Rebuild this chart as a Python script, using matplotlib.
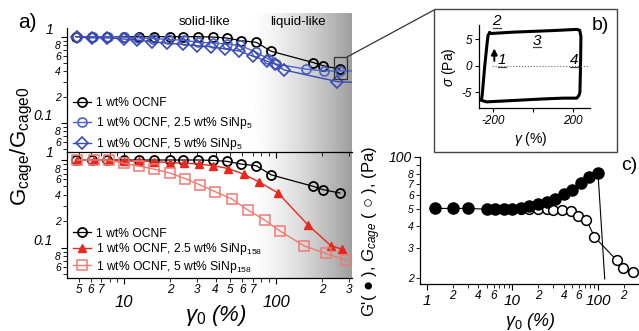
import numpy as np
import matplotlib
matplotlib.use("Agg")
import matplotlib.pyplot as plt
from matplotlib.patches import Rectangle, ConnectionPatch
from matplotlib.lines import Line2D

plt.rcParams['font.family'] = ['Liberation Sans', 'DejaVu Sans']
plt.rcParams['mathtext.fontset'] = 'custom'
plt.rcParams['mathtext.rm'] = 'Liberation Sans'
plt.rcParams['mathtext.it'] = 'Liberation Sans:italic'
plt.rcParams['mathtext.bf'] = 'Liberation Sans:bold'
plt.rcParams['axes.linewidth'] = 0.9

# ---- panel a, top: 1 wt% OCNF with SiNp5 ----
ocnf_x = [4.8, 6.1, 7.7, 9.9, 12.6, 15.7, 19.9, 24.5, 30.8, 38.5, 47.5, 58.5, 74, 93, 176, 203, 263]
ocnf_y = [1.0, 1.0, 1.0, 1.0, 1.0, 1.0, 1.0, 1.0, 1.0, 0.99, 0.965, 0.90, 0.86, 0.676, 0.50, 0.46, 0.42]

sinp5_25_x = [4.9, 6.2, 7.8, 9.9, 12.4, 15.5, 19.5, 24.6, 30.8, 38.5, 47.4, 58, 74, 89, 100, 157, 207, 263]
sinp5_25_y = [1.0, 1.0, 1.0, 0.99, 0.97, 0.95, 0.93, 0.91, 0.86, 0.845, 0.82, 0.79, 0.66, 0.55, 0.48, 0.42, 0.40, 0.40]
sinp5_25_end = (316, 0.40)

sinp5_5_x = [4.9, 6.1, 7.7, 9.9, 12.1, 15.2, 19.1, 24.2, 30.1, 37.2, 46.1, 57.4, 70.9, 87, 98.5, 113, 253]
sinp5_5_y = [1.0, 0.97, 0.97, 0.94, 0.915, 0.875, 0.84, 0.815, 0.785, 0.765, 0.72, 0.68, 0.59, 0.52, 0.48, 0.41, 0.30]
sinp5_5_end = (316, 0.295)

# ---- panel a, bottom: with SiNp158 ----
sinp158_25_x = [4.9, 6.3, 7.9, 10, 12.6, 15.8, 20, 24.9, 31, 38.7, 48.5, 61, 77.6, 103, 163, 230, 272]
sinp158_25_y = [1.0, 1.0, 1.0, 0.975, 0.975, 0.96, 0.93, 0.92, 0.90, 0.86, 0.80, 0.69, 0.56, 0.42, 0.18, 0.105, 0.096]

sinp158_5_x = [4.9, 6.3, 7.9, 10, 12.6, 15.8, 20, 25.2, 31.6, 39.7, 51, 65, 84, 106, 153, 212, 290]
sinp158_5_y = [1.0, 1.0, 1.0, 0.915, 0.85, 0.785, 0.71, 0.615, 0.52, 0.435, 0.36, 0.27, 0.207, 0.155, 0.105, 0.086, 0.072]

# ---- panel b: stress-strain loop ----
loop_gamma = [-215, -205, -185, -100, 0, 100, 180, 217, 232, 238, 236, 233, 228, 217, 150, 50, -50, -150,
              -230, -260, -255, -252, -240, -228, -223, -215]
loop_sigma = [6.2, 6.1, 6.15, 6.35, 6.5, 6.65, 6.8, 6.87, 6.7, 5.5, 0.0, -5.0, -5.6, -6.1, -6.1, -6.25,
              -6.45, -6.65, -6.8, -6.47, -6.2, -5.5, -0.2, 4.2, 5.76, 6.2]
loop_labels = ['1', '2', '3', '4']
loop_label_gamma = [-155, -180, 18, 202]
loop_label_sigma = [1.07, 8.4, 4.75, 1.07]

# ---- panel c: G' and Gcage for 1 wt% OCNF ----
gp_x = [1.25, 2, 3, 5, 6.3, 7.9, 10, 12.6, 15.8, 20, 25, 31.6, 40, 50, 63, 79, 100]
gp_y = [5.05, 5.05, 5.05, 5.0, 5.0, 5.0, 5.0, 5.11, 5.2, 5.34, 5.51, 5.76, 6.1, 6.44, 7.07, 7.63, 8.11]
gcage_x = [1.25, 2, 3, 5, 6.3, 7.9, 10, 12.6, 15.8, 20, 25, 30, 38, 48, 59, 73, 91, 165, 198, 258]
gcage_y = [5.05, 5.05, 5.05, 5.0, 5.0, 5.0, 5.0, 5.0, 5.0, 5.0, 5.0, 4.93, 4.93, 4.87, 4.55, 4.35, 3.46, 2.54, 2.30, 2.17]
drop_x = [100, 120]
drop_y = [8.11, 1.98]

BLUE1 = '#4d62c9'
BLUE2 = '#3a4ab6'
RED = '#e8281f'
PINK = '#f07a74'

W, H = 639, 331


def box(x0, y0, x1, y1):
    return [x0 / W, 1 - y1 / H, (x1 - x0) / W, (y1 - y0) / H]


def fx(px):
    return px / W


def fy(py):
    return 1 - py / H


def log_xticks(ax, labels=True):
    ax.set_xscale('log')
    maj = [10, 100]
    mnr = [5, 6, 7, 8, 9, 20, 30, 40, 50, 60, 70, 80, 90, 200, 300]
    mnr_lab = ['5', '6', '7', '', '', '2', '3', '4', '5', '6', '7', '', '', '2', '3']
    if labels:
        ax.set_xticks(maj, ['10', '100'], fontsize=12, style='italic')
        ax.set_xticks(mnr, mnr_lab, minor=True, fontsize=8.5, style='italic')
    else:
        ax.set_xticks(maj, ['', ''])
        ax.set_xticks(mnr, [''] * len(mnr), minor=True)
    ax.tick_params(axis='x', which='major', length=4, pad=8)
    ax.tick_params(axis='x', which='minor', length=3, pad=1.5)
    ax.set_xlim(4.2, 316)


def log_yticks(ax):
    ax.set_yscale('log')
    maj = [0.1, 1]
    mnr = [0.05, 0.06, 0.07, 0.08, 0.09, 0.2, 0.3, 0.4, 0.5, 0.6, 0.7, 0.8, 0.9]
    mnr_lab = ['', '6', '', '8', '', '2', '', '4', '', '6', '', '8', '']
    ax.set_yticks(maj, ['0.1', '1'], fontsize=10, style='italic')
    ax.set_yticks(mnr, mnr_lab, minor=True, fontsize=7.5, style='italic')
    ax.tick_params(axis='y', which='major', length=4, pad=6)
    ax.tick_params(axis='y', which='minor', length=3, pad=1.5)
    for lab in ax.get_yticklabels():
        lab.set_verticalalignment('bottom')


fig = plt.figure(figsize=(6.39, 3.31), dpi=100)

# grey shading behind both a-panels
bg = fig.add_axes(box(250, 13, 352, 278))
grad = np.linspace(0, 1, 256) ** 1.4
bg.imshow(np.vstack([1 - 0.38 * grad] * 2), cmap='gray', vmin=0, vmax=1,
          aspect='auto', extent=[0, 1, 0, 1])
bg.set_axis_off()
bg.set_zorder(0)

# ---- a) top ----
ax_t = fig.add_axes(box(67, 28, 352, 152))
ax_t.set_zorder(1)
ax_t.patch.set_alpha(0)
ax_t.plot(ocnf_x, ocnf_y, '-o', color='k', mfc='none', mec='k', ms=6.5, mew=1.3, lw=0.9)
ax_t.plot(sinp5_25_x + [sinp5_25_end[0]], sinp5_25_y + [sinp5_25_end[1]], '-', color=BLUE1, lw=1.0)
ax_t.plot(sinp5_25_x, sinp5_25_y, 'o', color=BLUE1, mfc='none', ms=6.5, mew=1.2)
ax_t.plot(sinp5_5_x + [sinp5_5_end[0]], sinp5_5_y + [sinp5_5_end[1]], '-', color=BLUE2, lw=1.0)
ax_t.plot(sinp5_5_x, sinp5_5_y, 'D', color=BLUE2, mfc='none', ms=6, mew=1.2)
log_xticks(ax_t, labels=False)
log_yticks(ax_t)
ax_t.set_ylim(0.0456, 1.262)
ax_t.spines['top'].set_visible(False)
ax_t.spines['right'].set_visible(False)
top_labels = ['1 wt% OCNF', '1 wt% OCNF, 2.5 wt% SiNp$_5$', '1 wt% OCNF, 5 wt% SiNp$_5$']
top_handles = [Line2D([], [], color='k', marker='o', mfc='none', ms=6.5, mew=1.3, lw=0.9),
               Line2D([], [], color=BLUE1, marker='o', mfc='none', ms=6.5, mew=1.2, lw=1.0),
               Line2D([], [], color=BLUE2, marker='D', mfc='none', ms=6, mew=1.2, lw=1.0)]
ax_t.legend(top_handles, top_labels, loc='lower left', bbox_to_anchor=(-0.005, -0.06), frameon=False,
            fontsize=8.7, handlelength=1.5, handletextpad=0.45, labelspacing=0.45, borderaxespad=0.2)

# zoom box and connection to panel b
ax_t.add_patch(Rectangle((240, 0.32), 53, 0.26, fill=False, ec='#333333', lw=0.9, zorder=5))
con = ConnectionPatch(xyA=(293, 0.58), coordsA=ax_t.transData,
                      xyB=(fx(434), fy(10)), coordsB=fig.transFigure, color='#333333', lw=0.9)
fig.add_artist(con)

# ---- a) bottom ----
ax_b = fig.add_axes(box(67, 152, 352, 278))
ax_b.set_zorder(1)
ax_b.patch.set_alpha(0)
ax_b.plot(ocnf_x, ocnf_y, '-o', color='k', mfc='none', mec='k', ms=6.5, mew=1.3, lw=0.9,
          label='1 wt% OCNF')
ax_b.plot(sinp158_25_x, sinp158_25_y, '-^', color=RED, ms=6, lw=1.0,
          label='1 wt% OCNF, 2.5 wt% SiNp$_{158}$')
ax_b.plot(sinp158_5_x, sinp158_5_y, '-s', color=PINK, mfc='none', mec=PINK, ms=7, mew=1.1, lw=1.0,
          label='1 wt% OCNF, 5 wt% SiNp$_{158}$')
log_xticks(ax_b)
log_yticks(ax_b)
ax_b.set_ylim(0.0451, 1.234)
ax_b.spines['top'].set_visible(False)
ax_b.spines['right'].set_visible(False)
ax_b.legend(loc='lower left', bbox_to_anchor=(-0.005, -0.03), frameon=False, fontsize=8.7,
            handlelength=1.5, handletextpad=0.45, labelspacing=0.12, borderaxespad=0.2)

fig.text(fx(205), fy(22), 'solid-like', fontsize=9.5, ha='center', va='center')
fig.text(fx(298), fy(22), 'liquid-like', fontsize=9.5, ha='center', va='center')
fig.text(fx(27), fy(22), 'a)', fontsize=15, ha='center', va='center')
fig.text(fx(22), fy(146), r'G$_{\rm cage}$/G$_{\rm cage0}$', fontsize=16, rotation=90,
         ha='center', va='center')
fig.text(fx(216), fy(315), r'$\gamma_0$ (%)', fontsize=16, style='italic', ha='center', va='center')

# ---- b) ----
fig.add_artist(Rectangle((fx(434), fy(152)), (617 - 434) / W, (152 - 9) / H,
                         transform=fig.transFigure, fill=False, ec='#444444', lw=1.0))
ax_l = fig.add_axes(box(479, 25, 590, 108))
ax_l.plot(loop_gamma, loop_sigma, color='k', lw=2.2, solid_joinstyle='round')
ax_l.axhline(0, xmin=0.12, color='#666666', lw=0.8, ls=':')
ax_l.annotate('', xy=(-192, 3.8), xytext=(-192, 0.4),
              arrowprops=dict(arrowstyle='-|>', color='k', lw=1.4, mutation_scale=9))
for lab, g, s in zip(loop_labels, loop_label_gamma, loop_label_sigma):
    ax_l.text(g, s, lab, fontsize=11, style='italic', ha='center', va='center')
    ax_l.plot([g - 20, g + 20], [s - 1.25, s - 1.25], color='#444444', lw=0.9, clip_on=False)
ax_l.set_xlim(-268, 283)
ax_l.set_ylim(-7.96, 7.7)
ax_l.set_xticks([-200, 0, 200], ['-200', '', '200'], fontsize=8.5, style='italic')
ax_l.set_yticks([-5, 0, 5], ['-5', '0', '5'], fontsize=8.5, style='italic')
ax_l.tick_params(length=3, pad=2)
ax_l.spines['top'].set_visible(False)
ax_l.spines['right'].set_visible(False)
ax_l.patch.set_alpha(0)
fig.text(fx(449), fy(67), r'$\sigma$ (Pa)', fontsize=10, rotation=90, ha='center', va='center')
fig.text(fx(531), fy(139), r'$\gamma$ (%)', fontsize=10, ha='center', va='center')
fig.text(fx(600), fy(25), 'b)', fontsize=14, ha='center', va='center')

# ---- c) ----
ax_c = fig.add_axes(box(420, 157, 639, 284))
ax_c.plot(gcage_x, gcage_y, '-o', color='k', mfc='white', mec='k', ms=7, mew=1.1, lw=0.8)
ax_c.plot(drop_x, drop_y, '-', color='k', lw=0.8)
ax_c.plot(gp_x, gp_y, 'o', color='k', ms=8)
ax_c.set_xscale('log')
ax_c.set_yscale('log')
ax_c.set_xlim(0.828, 302)
ax_c.set_ylim(1.85, 10.0)
ax_c.set_xticks([1, 10, 100], ['1', '10', '100'], fontsize=11, style='italic')
ax_c.set_xticks([2, 3, 4, 5, 6, 7, 8, 9, 20, 30, 40, 50, 60, 70, 80, 90, 200],
                ['2', '', '4', '', '6', '', '', '', '2', '', '4', '', '6', '', '', '', '2'],
                minor=True, fontsize=8.5, style='italic')
ax_c.set_yticks([10], ['100'], fontsize=10, style='italic')
ax_c.set_yticks([2, 3, 4, 5, 6, 7, 8, 9], ['2', '3', '4', '5', '6', '7', '8', ''],
                minor=True, fontsize=7.5, style='italic')
ax_c.tick_params(axis='x', which='major', length=4, pad=3)
ax_c.tick_params(axis='x', which='minor', length=3, pad=1.5)
ax_c.tick_params(axis='y', which='major', length=4, pad=2)
ax_c.tick_params(axis='y', which='minor', length=3, pad=1.5)
ax_c.spines['top'].set_visible(False)
ax_c.spines['right'].set_visible(False)
ax_c.patch.set_alpha(0)
fig.text(fx(372), fy(232), "G'( \u25cf ), $G_{cage}$ ( \u25cb ), (Pa)", fontsize=12, rotation=90,
         ha='center', va='center')
fig.text(fx(530), fy(321), r'$\gamma_0$ (%)', fontsize=13, style='italic', ha='center', va='center')
fig.text(fx(629), fy(165), 'c)', fontsize=14, ha='center', va='center')

fig.savefig('out.png', dpi=100)
